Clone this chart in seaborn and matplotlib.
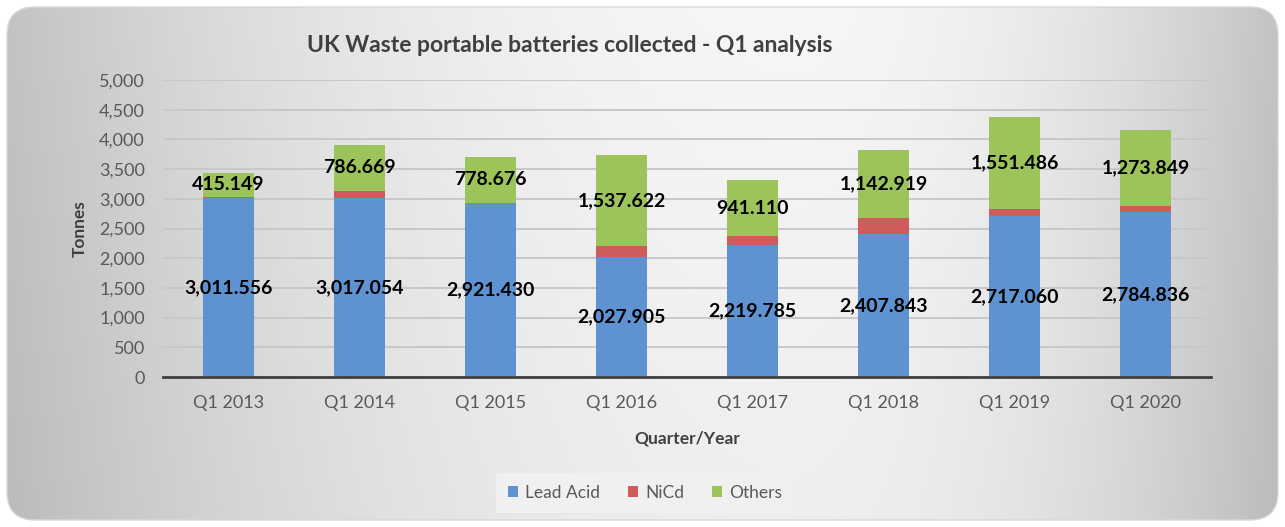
import numpy as np
import pandas as pd
import matplotlib.pyplot as plt
from matplotlib.patches import FancyBboxPatch, Patch
import seaborn as sns

quarters = ["Q1 2013", "Q1 2014", "Q1 2015", "Q1 2016",
            "Q1 2017", "Q1 2018", "Q1 2019", "Q1 2020"]
lead_acid = [3011.556, 3017.054, 2921.430, 2027.905,
             2219.785, 2407.843, 2717.060, 2784.836]
nicd = [15, 110, 10, 170, 150, 270, 110, 95]   # no labels
others = [415.149, 786.669, 778.676, 1537.622,
          941.110, 1142.919, 1551.486, 1273.849]
series_names = ["Lead Acid", "NiCd", "Others"]
y_ticks = list(range(0, 5001, 500))

blue = "#5F92D0"
red = "#CF5C5C"
green = "#9DC35B"

df = pd.DataFrame({"Quarter": quarters, "Lead Acid": lead_acid,
                   "NiCd": nicd, "Others": others})
df["LA_NiCd"] = df["Lead Acid"] + df["NiCd"]
df["Total"] = df["LA_NiCd"] + df["Others"]

sns.set_style("white")
plt.rcParams['font.family'] = ['Lato', 'DejaVu Sans']

W, H = 1285, 527
fig = plt.figure(figsize=(W / 100, H / 100), dpi=100)
fig.patch.set_facecolor("white")

# background card with grey-white-grey gradient
bg = fig.add_axes([0, 0, 1, 1])
bg.set_xlim(0, W)
bg.set_ylim(H, 0)
bg.axis("off")
xs = np.linspace(0, 1, 600)
ys = np.linspace(0, 1, 250)
X, Y = np.meshgrid(xs, ys)
d = np.where(X < 0.62, (X - 0.62) / 0.62, (X - 0.62) / 0.38)
shade = 0.965 - 0.2 * d ** 2 - 0.03 * Y
img = np.dstack([shade, shade, shade])
card = FancyBboxPatch((7, 7), W - 14, H - 14,
                      boxstyle="round,pad=0,rounding_size=28",
                      facecolor="none", edgecolor="#d8d8d8", linewidth=1)
bg.add_patch(card)
im = bg.imshow(img, extent=(7, W - 7, H - 7, 7), aspect="auto", zorder=0)
im.set_clip_path(card)

ax = fig.add_axes([163 / W, 1 - 377 / H, 1048 / W, 297 / H])
ax.patch.set_alpha(0)

sns.barplot(data=df, x="Quarter", y="Total", color=green, saturation=1,
            width=0.39, errorbar=None, linewidth=0, ax=ax)
sns.barplot(data=df, x="Quarter", y="LA_NiCd", color=red, saturation=1,
            width=0.39, errorbar=None, linewidth=0, ax=ax)
sns.barplot(data=df, x="Quarter", y="Lead Acid", color=blue, saturation=1,
            width=0.39, errorbar=None, linewidth=0, ax=ax)

# value labels
for i, row in df.iterrows():
    ax.text(i, row["Lead Acid"] / 2, f"{row['Lead Acid']:,.3f}",
            ha="center", va="center", fontsize=14, fontweight="bold",
            color="black", zorder=5)
    ax.text(i, row["LA_NiCd"] + row["Others"] / 2, f"{row['Others']:,.3f}",
            ha="center", va="center", fontsize=14, fontweight="bold",
            color="black", zorder=5)

ax.set_ylim(0, 5000)
ax.set_xlim(-0.5, len(quarters) - 0.5)
ax.set_yticks(y_ticks)
ax.set_yticklabels([f"{t:,}" for t in y_ticks])
ax.yaxis.grid(True, color="#c8c8c8", linewidth=1.4)
ax.set_axisbelow(True)

for s in ["left", "right", "top"]:
    ax.spines[s].set_visible(False)
ax.spines["bottom"].set_color("#404040")
ax.spines["bottom"].set_linewidth(2)

ax.tick_params(axis="y", length=0, labelsize=13, labelcolor="#595959", pad=13)
ax.tick_params(axis="x", which="major", length=0, labelsize=13,
               labelcolor="#595959", pad=13)
ax.set_xticks(np.arange(-0.5, len(quarters), 1), minor=True)
ax.tick_params(axis="x", which="minor", length=6, width=2, color="#404040")

ax.set_xlabel("Quarter/Year", fontsize=12.5, fontweight="bold", color="#404040")
ax.xaxis.set_label_coords(0.5, -0.18)
ax.set_ylabel("Tonnes", fontsize=12.5, fontweight="bold", color="#404040")
ax.yaxis.set_label_coords((88 - 163) / 1048, 0.5)

fig.text(570 / W, 1 - 45 / H, "UK Waste portable batteries collected - Q1 analysis",
         ha="center", va="center", fontsize=16.5, fontweight="bold", color="#404040")

handles = [Patch(facecolor=c, edgecolor="none") for c in [blue, red, green]]
leg = fig.legend(handles, series_names, loc="center",
                 bbox_to_anchor=(645 / W, 1 - 493 / H), ncol=3, frameon=True,
                 facecolor="#f0f0f0", edgecolor="none", framealpha=1,
                 fontsize=12.5, handlelength=0.6, handleheight=0.6,
                 handletextpad=0.4, columnspacing=1.6, borderpad=0.7)
leg.get_frame().set_boxstyle("square", pad=0)
for t in leg.get_texts():
    t.set_color("#595959")

fig.savefig("out.png", dpi=100)
